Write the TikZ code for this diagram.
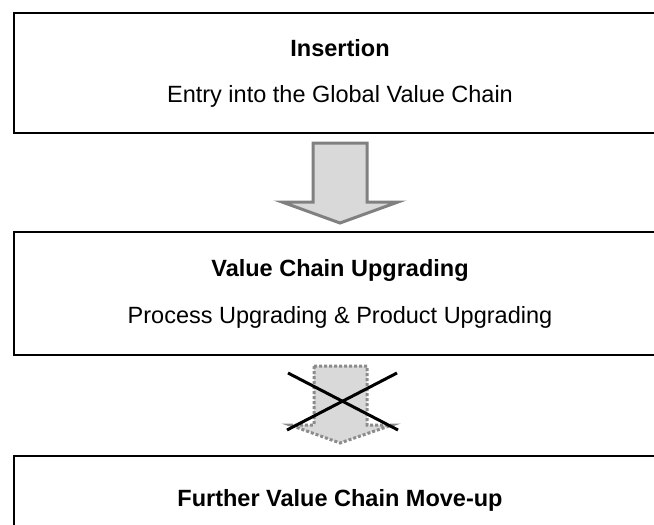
\documentclass[tikz,border=0pt]{standalone}
\usepackage{fontspec}
\setmainfont{Liberation Sans}
\begin{document}
\begin{tikzpicture}[x=1pt,y=-1pt,
  stagebox/.style={draw=black,line width=2.5pt,fill=white},
  title/.style={font=\fontsize{23.5}{28}\selectfont\bfseries,anchor=base,inner sep=0pt},
  subtitle/.style={font=\fontsize{23.5}{28}\selectfont,anchor=base,inner sep=0pt},
  flowarrow/.style={draw=black!50,line width=3pt,fill=black!15,line join=miter},
  blockedarrow/.style={draw=black!45,line width=3pt,fill=black!15,dash pattern=on 3pt off 2pt},
  crossline/.style={draw=black,line width=3pt}]
\clip (0,0) rectangle (654,525);
\fill[white] (0,0) rectangle (654,525);

% stage boxes (they run past the right and lower edges)
\draw[stagebox] (14,13) rectangle (667,133);
\draw[stagebox] (14,232) rectangle (667,355);
\draw[stagebox] (14,456) rectangle (667,600);

% texts
\node[title]    (ins)  at (340,56)  {Insertion};
\node[subtitle] (insd) at (340,102) {Entry into the Global Value Chain};
\node[title]    (vcu)  at (340,276) {Value Chain Upgrading};
\node[subtitle] (vcud) at (340,323) {Process Upgrading \& Product Upgrading};
\node[title]    (fmu)  at (340,506) {Further Value Chain Move-up};

% arrow from insertion to upgrading
\draw[flowarrow] (313,143) -- (367,143) -- (367,202) -- (398,202) -- (340,223)
  -- (282,202) -- (313,202) -- cycle;

% blocked arrow towards the further move-up
\draw[blockedarrow] (314,366) -- (367,366) -- (367,425) -- (392,425) -- (340,443)
  -- (290,425) -- (314,425) -- cycle;
\coordinate (c1) at (288,373);
\coordinate (c2) at (398,430);
\coordinate (c3) at (287,430);
\coordinate (c4) at (397,373);
\draw[crossline] (c1) -- (c2);
\draw[crossline] (c3) -- (c4);
\end{tikzpicture}
\end{document}
